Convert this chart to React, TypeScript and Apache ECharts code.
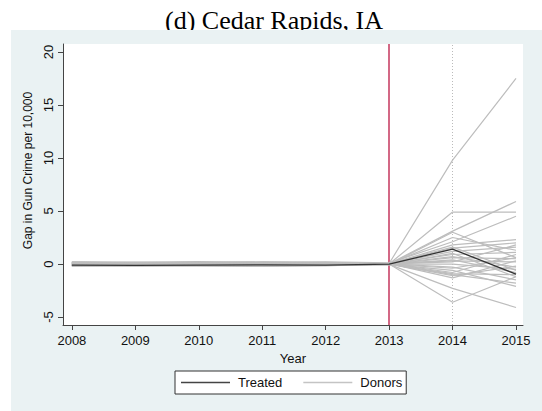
import React, { useEffect, useRef } from "react";
import * as echarts from "echarts";

const years = [2008, 2009, 2010, 2011, 2012, 2013, 2014, 2015];
const yTicks = [-5, 0, 5, 10, 15, 20];
const treatedYear = 2013;
const dottedYear = 2014;

const treated = [-0.1, -0.12, -0.1, -0.08, -0.1, 0.0, 1.4, -0.95];

const donor01 = [0.12, 0.08, 0.1, 0.15, 0.1, 0.05, 9.8, 17.5];
const donor02 = [-0.1, -0.12, -0.08, -0.1, -0.05, 0.0, 4.9, 4.9];
const donor03 = [0.05, 0.1, 0.08, 0.02, 0.06, 0.02, 3.1, 5.9];
const donor04 = [0.2, 0.18, 0.22, 0.15, 0.2, 0.1, 2.1, 4.5];
const donor05 = [-0.2, -0.15, -0.18, -0.22, -0.15, -0.05, 3.0, 0.6];
const donor06 = [0.15, 0.1, 0.12, 0.08, 0.1, 0.0, -3.6, -1.2];
const donor07 = [-0.15, -0.1, -0.12, -0.18, -0.1, -0.03, -2.3, -4.1];
const donor08 = [0.05, 0.02, 0.04, 0.06, 0.03, 0.01, 1.8, 2.3];
const donor09 = [-0.05, -0.08, -0.02, -0.06, -0.04, 0.0, 1.5, 2.0];
const donor10 = [0.1, 0.12, 0.06, 0.1, 0.08, 0.02, 1.2, 1.6];
const donor11 = [0.0, 0.05, -0.03, 0.02, 0.0, 0.0, 0.9, 1.1];
const donor12 = [-0.12, -0.06, -0.1, -0.08, -0.12, -0.02, 0.6, 0.5];
const donor13 = [0.18, 0.1, 0.15, 0.2, 0.12, 0.04, 0.3, 0.2];
const donor14 = [-0.08, -0.1, -0.05, -0.12, -0.06, 0.0, 0.0, -0.5];
const donor15 = [0.08, 0.06, 0.1, 0.05, 0.07, 0.02, -0.3, -1.5];
const donor16 = [-0.18, -0.2, -0.15, -0.12, -0.16, -0.04, -0.6, -2.1];
const donor17 = [0.02, -0.02, 0.0, 0.03, 0.01, 0.0, -1.0, -1.8];
const donor18 = [0.14, 0.16, 0.1, 0.12, 0.14, 0.03, -1.3, 0.3];
const donor19 = [-0.06, -0.03, -0.07, -0.04, -0.05, -0.01, 0.4, -0.8];
const donor20 = [0.06, 0.09, 0.04, 0.07, 0.05, 0.01, 2.5, 1.3];
const donor21 = [-0.14, -0.1, -0.16, -0.12, -0.1, -0.02, 1.0, -1.2];
const donor22 = [0.1, 0.05, 0.08, 0.12, 0.09, 0.02, -0.8, 0.9];
const donor23 = [0.03, 0.07, 0.05, 0.01, 0.04, 0.0, 0.7, -0.3];
const donor24 = [-0.1, -0.14, -0.12, -0.08, -0.09, -0.02, -0.4, 0.6];
const donor25 = [0.16, 0.12, 0.14, 0.18, 0.15, 0.03, 1.6, -0.6];
const donor26 = [-0.04, -0.06, -0.02, -0.05, -0.03, 0.0, -1.1, -0.2];
const donor27 = [0.07, 0.04, 0.06, 0.09, 0.05, 0.01, 0.2, 1.8];
const donor28 = [-0.16, -0.12, -0.14, -0.18, -0.13, -0.03, -0.9, -1.0];

const donors = [
  donor01, donor02, donor03, donor04, donor05, donor06, donor07, donor08,
  donor09, donor10, donor11, donor12, donor13, donor14, donor15, donor16,
  donor17, donor18, donor19, donor20, donor21, donor22, donor23, donor24,
  donor25, donor26, donor27, donor28,
];

const FONT = "'Liberation Sans', Arial, sans-serif";

export default function App() {
  const ref = useRef<HTMLDivElement>(null);

  useEffect(() => {
    if (!ref.current) return;
    const chart = echarts.init(ref.current, undefined, { renderer: "svg" });

    const toPts = (arr: number[]) => years.map((y, i) => [y, arr[i]]);

    const donorSeries = donors.map((d) => ({
      name: "Donors",
      type: "line",
      data: toPts(d),
      symbol: "none",
      z: 5,
      lineStyle: { color: "#bdbdbd", width: 1.2 },
      itemStyle: { color: "#c4c4c4" },
    }));

    const option: any = {
      animation: false,
      graphic: [
        {
          type: "text",
          x: 274,
          y: 33,
          z: 0,
          style: {
            text: "(d) Cedar Rapids, IA",
            font: "26px 'Liberation Serif', 'Times New Roman', serif",
            fill: "#000",
            textAlign: "center",
            textVerticalAlign: "bottom",
          },
        },
        {
          type: "rect",
          z: 1,
          shape: { x: 11, y: 30, width: 531, height: 381 },
          style: { fill: "#eaf2f3" },
        },
      ],
      grid: {
        left: 63,
        right: 19,
        top: 44,
        bottom: 86,
        show: true,
        z: 2,
        backgroundColor: "#ffffff",
        borderWidth: 0,
      },
      legend: {
        z: 6,
        left: 175,
        top: 371,
        data: [
          { name: "Treated", icon: "rect", itemStyle: { color: "#444" } },
          { name: "Donors", icon: "rect", itemStyle: { color: "#c4c4c4" } },
        ],
        backgroundColor: "#ffffff",
        borderColor: "#333",
        borderWidth: 1,
        borderRadius: 0,
        padding: [5, 4, 5, 6],
        itemGap: 21,
        itemWidth: 49,
        itemHeight: 1.3,
        textStyle: { fontFamily: FONT, fontSize: 13, color: "#111", padding: [0, 0, 0, 3] },
      },
      xAxis: {
        type: "value",
        z: 6,
        min: 2007.86,
        max: 2015.11,
        name: "Year",
        nameLocation: "middle",
        nameGap: 23,
        nameTextStyle: { fontFamily: FONT, fontSize: 13, color: "#111" },
        axisLine: { show: true, onZero: false, lineStyle: { color: "#444", width: 1 } },
        axisTick: { show: true, length: 5, customValues: years, lineStyle: { color: "#444" } },
        axisLabel: {
          customValues: years,
          fontFamily: FONT,
          fontSize: 13,
          color: "#111",
          margin: 9,
          formatter: (v: number) => String(v),
        },
        splitLine: { show: false },
      },
      yAxis: {
        type: "value",
        z: 6,
        min: -5.75,
        max: 20.75,
        name: "Gap in Gun Crime per 10,000",
        nameLocation: "middle",
        nameGap: 27,
        nameTextStyle: { fontFamily: FONT, fontSize: 12, color: "#111", padding: [0, 0, 0, 28] },
        axisLine: { show: true, onZero: false, lineStyle: { color: "#444", width: 1 } },
        axisTick: { show: true, length: 5, customValues: yTicks, lineStyle: { color: "#444" } },
        axisLabel: {
          customValues: yTicks,
          rotate: 90,
          fontFamily: FONT,
          fontSize: 13,
          color: "#111",
          margin: 8,
          formatter: (v: number) => String(v),
        },
        splitLine: { show: false },
      },
      series: [
        ...donorSeries,
        {
          name: "Treated",
          type: "line",
          data: toPts(treated),
          symbol: "none",
          z: 7,
          lineStyle: { color: "#333333", width: 1.3 },
          itemStyle: { color: "#444" },
          markLine: {
            silent: true,
            symbol: "none",
            label: { show: false },
            data: [
              { xAxis: treatedYear, lineStyle: { color: "#c4365c", width: 1.5, type: "solid" } },
              { xAxis: dottedYear, lineStyle: { color: "#aaaaaa", width: 0.8, type: [1, 2] } },
            ],
          },
        },
      ],
    };

    chart.setOption(option);
    return () => chart.dispose();
  }, []);

  return (
    <div
      ref={ref}
      style={{ position: "absolute", left: 0, top: 0, width: 542, height: 411 }}
    />
  );
}
